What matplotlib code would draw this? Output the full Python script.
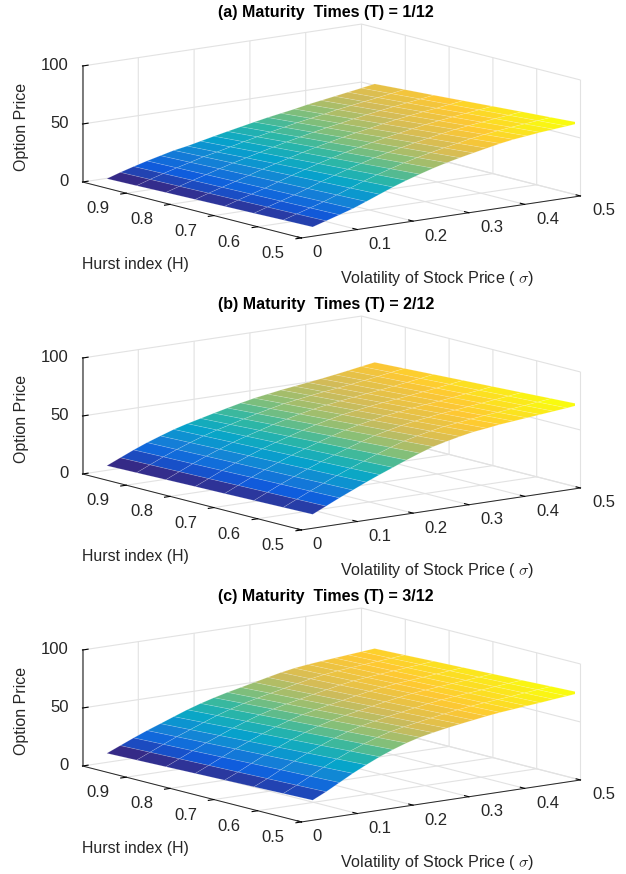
import numpy as np
import matplotlib
matplotlib.use('Agg')
import matplotlib.pyplot as plt
from matplotlib.colors import LinearSegmentedColormap
from mpl_toolkits.mplot3d import proj3d

plt.rcParams['font.family'] = ['Liberation Sans', 'DejaVu Sans']
plt.rcParams['mathtext.fontset'] = 'cm'

titles = ['(a) Maturity  Times (T) = 1/12', '(b) Maturity  Times (T) = 2/12', '(c) Maturity  Times (T) = 3/12']
sigma = [.02, .044, .068, .092, .116, .14, .164, .188, .212, .236, .26, .284, .308, .332, .356, .38, .404, .428, .452, .476, .5]
hurst = [.5, .567, .634, .701, .768, .835, .902, .97]
sigma_ticks = [0, .1, .2, .3, .4, .5]
sigma_labels = ['0', '0.1', '0.2', '0.3', '0.4', '0.5']
hurst_ticks = [.5, .6, .7, .8, .9]
hurst_labels = ['0.5', '0.6', '0.7', '0.8', '0.9']
price_ticks = [0, 50, 100]
price_labels = ['0', '50', '100']
parula = ['#352a87', '#0f5cdd', '#1481d6', '#06a4ca', '#2eb7a4', '#87bf77', '#d1bb59', '#fec832', '#f9fb0e']

# one row per sigma, one column per hurst value
price_a = [
    [8, 7.5, 6.9, 6.4, 5.9, 5.4, 4.8, 4.3],
    [11.5, 11, 10.5, 10, 9.5, 9, 8.5, 8],
    [15, 14.5, 13.9, 13.4, 12.9, 12.4, 11.8, 11.3],
    [18.6, 18, 17.4, 16.8, 16.2, 15.6, 15, 14.4],
    [23, 22.2, 21.3, 20.5, 19.7, 18.9, 18, 17.2],
    [27.5, 26.4, 25.4, 24.3, 23.2, 22.1, 21.1, 20],
    [32, 30.6, 29.1, 27.7, 26.3, 24.9, 23.4, 22],
    [36, 34.4, 32.7, 31.1, 29.4, 27.8, 26.1, 24.5],
    [39.6, 37.8, 36, 34.2, 32.4, 30.6, 28.8, 27],
    [43, 41.1, 39.1, 37.2, 35.2, 33.3, 31.3, 29.4],
    [46, 44, 41.9, 39.9, 37.8, 35.8, 33.7, 31.7],
    [48.6, 46.5, 44.4, 42.3, 40.3, 38.2, 36.1, 34],
    [51, 48.9, 46.8, 44.7, 42.5, 40.4, 38.3, 36.2],
    [53.3, 51.1, 49, 46.8, 44.6, 42.4, 40.3, 38.1],
    [55.6, 53.4, 51.1, 48.9, 46.7, 44.5, 42.2, 40],
    [57.4, 55.2, 53.1, 50.9, 48.7, 46.5, 44.4, 42.2],
    [58.7, 56.6, 54.5, 52.4, 50.3, 48.2, 46.1, 44],
    [60, 58, 55.9, 53.9, 51.9, 49.9, 47.8, 45.8],
    [61, 59.1, 57.2, 55.3, 53.3, 51.4, 49.5, 47.6],
    [62, 60.2, 58.4, 56.6, 54.8, 53, 51.2, 49.4],
    [63, 61.3, 59.7, 58, 56.3, 54.6, 53, 51.3],
]
price_b = [
    [12, 11.5, 11, 10.5, 10.1, 9.6, 9.1, 8.6],
    [17.3, 16.8, 16.3, 15.8, 15.2, 14.7, 14.2, 13.7],
    [22.7, 22.1, 21.6, 21, 20.4, 19.8, 19.3, 18.7],
    [27.7, 27.1, 26.4, 25.8, 25.2, 24.6, 23.9, 23.3],
    [32.8, 32, 31.2, 30.4, 29.7, 28.9, 28.1, 27.3],
    [37.5, 36.6, 35.7, 34.8, 33.9, 33, 32.1, 31.2],
    [42, 40.9, 39.8, 38.7, 37.7, 36.6, 35.5, 34.4],
    [46.6, 45.3, 43.9, 42.6, 41.2, 39.9, 38.5, 37.2],
    [50.8, 49.3, 47.7, 46.2, 44.6, 43.1, 41.5, 40],
    [54.7, 53, 51.3, 49.6, 47.8, 46.1, 44.4, 42.7],
    [57.5, 55.8, 54, 52.3, 50.5, 48.8, 47, 45.3],
    [60, 58.2, 56.5, 54.7, 53, 51.2, 49.5, 47.7],
    [62.2, 60.4, 58.6, 56.8, 54.9, 53.1, 51.3, 49.5],
    [63.6, 61.8, 60.1, 58.3, 56.6, 54.8, 53.1, 51.3],
    [65.2, 63.4, 61.7, 59.9, 58.1, 56.3, 54.6, 52.8],
    [66.3, 64.6, 62.9, 61.2, 59.4, 57.7, 56, 54.3],
    [67.4, 65.7, 64.1, 62.4, 60.8, 59.1, 57.5, 55.8],
    [68.5, 66.9, 65.4, 63.8, 62.2, 60.6, 59.1, 57.5],
    [69.6, 68.1, 66.7, 65.2, 63.7, 62.2, 60.8, 59.3],
    [70.7, 69.3, 68, 66.6, 65.3, 63.9, 62.6, 61.2],
    [72, 70.7, 69.4, 68.1, 66.9, 65.6, 64.3, 63],
]
price_c = [
    [17.3, 16.6, 15.9, 15.2, 14.5, 13.8, 13.1, 12.4],
    [22.8, 22, 21.2, 20.4, 19.7, 18.9, 18.1, 17.3],
    [29, 28, 27.1, 26.1, 25.1, 24.1, 23.2, 22.2],
    [35.2, 34, 32.8, 31.6, 30.4, 29.2, 28, 26.8],
    [40.8, 39.4, 38, 36.6, 35.2, 33.8, 32.4, 31],
    [46, 44.5, 42.9, 41.4, 39.9, 38.4, 36.8, 35.3],
    [50.5, 48.9, 47.4, 45.8, 44.2, 42.6, 41.1, 39.5],
    [54.4, 52.8, 51.2, 49.6, 48, 46.4, 44.8, 43.2],
    [57.6, 56, 54.4, 52.8, 51.2, 49.6, 48, 46.4],
    [59.9, 58.4, 56.9, 55.4, 53.8, 52.3, 50.8, 49.3],
    [62, 60.5, 59.1, 57.6, 56.2, 54.7, 53.3, 51.8],
    [63.8, 62.5, 61.1, 59.8, 58.4, 57.1, 55.7, 54.4],
    [65.5, 64.3, 63.1, 61.9, 60.6, 59.4, 58.2, 57],
    [67.2, 66.1, 65, 63.9, 62.8, 61.7, 60.6, 59.5],
    [68.6, 67.6, 66.6, 65.6, 64.5, 63.5, 62.5, 61.5],
    [69.7, 68.7, 67.8, 66.8, 65.8, 64.8, 63.9, 62.9],
    [70.8, 69.8, 68.9, 67.9, 66.9, 65.9, 65, 64],
    [71.8, 70.8, 69.9, 68.9, 67.9, 66.9, 66, 65],
    [73, 72, 71, 70, 69, 68, 67, 66],
    [74.1, 73.1, 72.1, 71, 70, 69, 67.9, 67],
    [75.2, 74.2, 73.1, 72.1, 71.1, 70.1, 69, 68],
]

W, H = 626, 874
GREY = '#262626'
cmap = LinearSegmentedColormap.from_list('parula', parula)
fig = plt.figure(figsize=(W / 100, H / 100), dpi=100)


def tick_label(ax, text, x, y, z, dx, dy, ha='center'):
    # mplot3d tick labels only slide along the tick direction, so place them from the projected tick
    px, py, _ = proj3d.proj_transform(x, y, z, ax.get_proj())
    ax.annotate(text, xy=(px, py), xytext=(dx, dy), textcoords='offset pixels', ha=ha, va='center',
                fontsize=12, color=GREY, annotation_clip=False)


for i, price in enumerate([price_a, price_b, price_c]):
    dy = 292 * i
    # square axes, box centre sits at about (331, 131) px in panel a
    size = 500
    left = 331.5 - 0.5135 * size
    bottom = H - (131 + dy) - 0.5135 * size
    ax = fig.add_axes([left / W, bottom / H, size / W, size / H], projection='3d')
    ax.patch.set_alpha(0)
    ax.set_proj_type('ortho')
    ax.view_init(elev=11.3, azim=-127.5)
    ax.set_box_aspect((351.7, 359.8, 118.3), zoom=1.0034)

    X, Y = np.meshgrid(hurst, sigma)
    # x axis is sigma, y axis is hurst
    ax.plot_surface(Y, X, np.array(price), cmap=cmap, edgecolor=(1, 1, 1, 0.18), linewidth=0.5,
                    rstride=1, cstride=1, shade=False, antialiased=True)

    ax.set_xlim(0, .5, view_margin=0)
    ax.set_ylim(.5, 1, view_margin=0)
    ax.set_zlim(0, 100, view_margin=0)
    ax.set_xticks(sigma_ticks, [''] * len(sigma_ticks))
    ax.set_yticks(hurst_ticks, [''] * len(hurst_ticks))
    ax.set_zticks(price_ticks, [''] * len(price_ticks))

    for axis in [ax.xaxis, ax.yaxis, ax.zaxis]:
        axis.set_pane_color((1, 1, 1, 0))
        axis.pane.set_edgecolor('#dddddd')
        axis.line.set_color(GREY)
        axis.line.set_linewidth(0.7)
        axis._axinfo['grid'].update(color='#e2e2e2', linewidth=0.8)
    ax.xaxis._axinfo['tick'].update(inward_factor=0.0, outward_factor=0.25, color=GREY)
    ax.yaxis._axinfo['tick'].update(inward_factor=0.25, outward_factor=0.0, color=GREY)
    ax.zaxis._axinfo['tick'].update(inward_factor=0.0, outward_factor=0.25, color=GREY)
    ax.zaxis.set_ticks_position('upper')
    ax.zaxis.line.set_color('#666666')
    ax.zaxis.line.set_linewidth(1.2)

    for s, label in zip(sigma_ticks, sigma_labels):
        tick_label(ax, label, s, .5, 0, 15 if s == 0 else 23, -15)
    for h, label in zip(hurst_ticks, hurst_labels):
        tick_label(ax, label, 0, h, 0, -28.5, -15.5)
    for p, label in zip(price_ticks, price_labels):
        tick_label(ax, label, 0, 1, p, -14, 0.5, ha='right')

    fig.text(326 / W, 1 - (12.5 + dy) / H, titles[i], ha='center', va='center', fontsize=11.5, fontweight='bold', color='black')
    fig.text(22 / W, 1 - (127 + dy) / H, 'Option Price', rotation=90, ha='center', va='center', fontsize=11.5, color=GREY)
    fig.text(135 / W, 1 - (265 + dy) / H, 'Hurst index (H)', ha='center', va='center', fontsize=11.4, color=GREY)
    fig.text(437 / W, 1 - (278 + dy) / H, r'Volatility of Stock Price ( $\sigma$)', ha='center', va='center', fontsize=11.6, color=GREY)

fig.savefig('out.png', dpi=100)
